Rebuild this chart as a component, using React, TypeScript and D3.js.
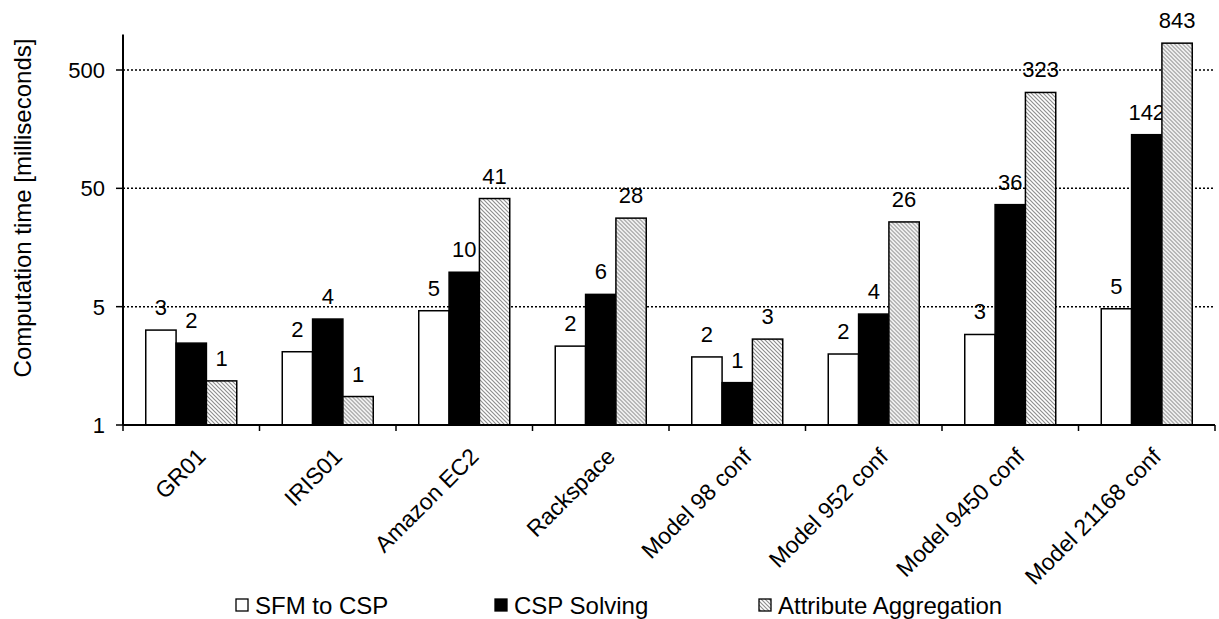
import React from "react";
import * as d3 from "d3";

const categories = [
  "GR01",
  "IRIS01",
  "Amazon EC2",
  "Rackspace",
  "Model 98 conf",
  "Model 952 conf",
  "Model 9450 conf",
  "Model 21168 conf",
];
const seriesNames = ["SFM to CSP", "CSP Solving", "Attribute Aggregation"];
const sfmToCsp = [3.17, 2.08, 4.62, 2.32, 1.88, 1.99, 2.91, 4.8];
const cspSolving = [2.46, 3.93, 9.77, 6.35, 1.14, 4.33, 36.4, 142];
const attributeAggregation = [1.18, 0.87, 41, 28, 2.66, 26, 323, 843];
const yTickValues = [0.5, 5, 50, 500];
const yTickLabels = ["1", "5", "50", "500"];
const yTitle = "Computation time [milliseconds]";

const W = 1219;
const H = 619;
const left = 123;
const right = 1215;
const bottom = 425;
const FONT = "'Liberation Sans', Arial, Helvetica, sans-serif";

export default function App() {
  const seriesValues = [sfmToCsp, cspSolving, attributeAggregation];
  const y = d3
    .scaleLog()
    .domain([0.5, 1000])
    .range([bottom, bottom - (355 / 3) * Math.log10(2000)]);
  const x = d3.scaleBand<string>().domain(categories).range([left, right]).paddingInner(0).paddingOuter(0);
  const xs = d3
    .scaleBand<string>()
    .domain(seriesNames)
    .range([0, x.bandwidth()])
    .paddingInner(0)
    .paddingOuter(0.75);
  const fills = ["#ffffff", "#000000", "url(#hatch)"];
  const fmt = (v: number) => String(Math.round(v));
  const boundaries = d3.range(categories.length + 1).map((i) => left + i * x.step());
  const legendX = [236, 495, 759];

  return (
    <svg
      width={W}
      height={H}
      style={{ position: "absolute", left: 0, top: 0, background: "#fff" }}
      fontFamily={FONT}
    >
      <defs>
        <pattern id="hatch" width="4" height="4" patternUnits="userSpaceOnUse">
          <rect width="4" height="4" fill="#ffffff" />
          <path d="M-1,-1 L5,5 M-1,3 L1,5 M3,-1 L5,1" stroke="#8f8f8f" strokeWidth="1.2" />
        </pattern>
      </defs>

      {/* gridlines */}
      {yTickValues.slice(1).map((v) => (
        <line
          key={"g" + v}
          x1={left}
          x2={right}
          y1={y(v)}
          y2={y(v)}
          stroke="#000"
          strokeWidth={1.5}
          strokeDasharray="2 2"
        />
      ))}

      {/* bars */}
      {categories.map((c, i) => (
        <g key={c} transform={`translate(${x(c)},0)`}>
          {seriesNames.map((s, j) => {
            const v = seriesValues[j][i];
            const bx = xs(s)!;
            const by = y(v);
            return (
              <g key={s}>
                <rect
                  x={bx}
                  y={by}
                  width={xs.bandwidth()}
                  height={bottom - by}
                  fill={fills[j]}
                  stroke="#000"
                  strokeWidth={1.5}
                />
                <text
                  x={bx + xs.bandwidth() / 2}
                  y={by - 15}
                  textAnchor="middle"
                  fontSize={22}
                  fill="#000"
                >
                  {fmt(v)}
                </text>
              </g>
            );
          })}
        </g>
      ))}

      {/* y axis */}
      <line x1={left} x2={left} y1={y(1000)} y2={bottom} stroke="#000" strokeWidth={2} />
      {yTickValues.map((v, i) => (
        <g key={"t" + v}>
          <line x1={left - 7} x2={left} y1={y(v)} y2={y(v)} stroke="#000" strokeWidth={1.5} />
          <text x={left - 18} y={y(v)} dy="0.36em" textAnchor="end" fontSize={22} fill="#000">
            {yTickLabels[i]}
          </text>
        </g>
      ))}
      <text
        transform={`translate(22,208) rotate(-90)`}
        textAnchor="middle"
        dy="0.36em"
        fontSize={24}
        fill="#000"
      >
        {yTitle}
      </text>

      {/* x axis */}
      <line x1={left} x2={right} y1={bottom} y2={bottom} stroke="#000" strokeWidth={2} />
      {boundaries.map((bx, i) => (
        <line key={"b" + i} x1={bx} x2={bx} y1={bottom} y2={bottom + 6} stroke="#000" strokeWidth={1.5} />
      ))}
      {categories.map((c) => {
        const cx = x(c)! + x.bandwidth() / 2;
        return (
          <text
            key={"l" + c}
            transform={`translate(${cx + 4},446) rotate(-45)`}
            textAnchor="end"
            dy="0.73em"
            fontSize={23}
            fill="#000"
          >
            {c}
          </text>
        );
      })}

      {/* legend */}
      {seriesNames.map((s, j) => (
        <g key={"lg" + s} transform={`translate(${legendX[j]},605)`}>
          <rect x={0} y={-6} width={12} height={12} fill={fills[j]} stroke="#000" strokeWidth={1.3} />
          <text x={19} y={0} dy="0.36em" fontSize={24} fill="#000">
            {s}
          </text>
        </g>
      ))}
    </svg>
  );
}
